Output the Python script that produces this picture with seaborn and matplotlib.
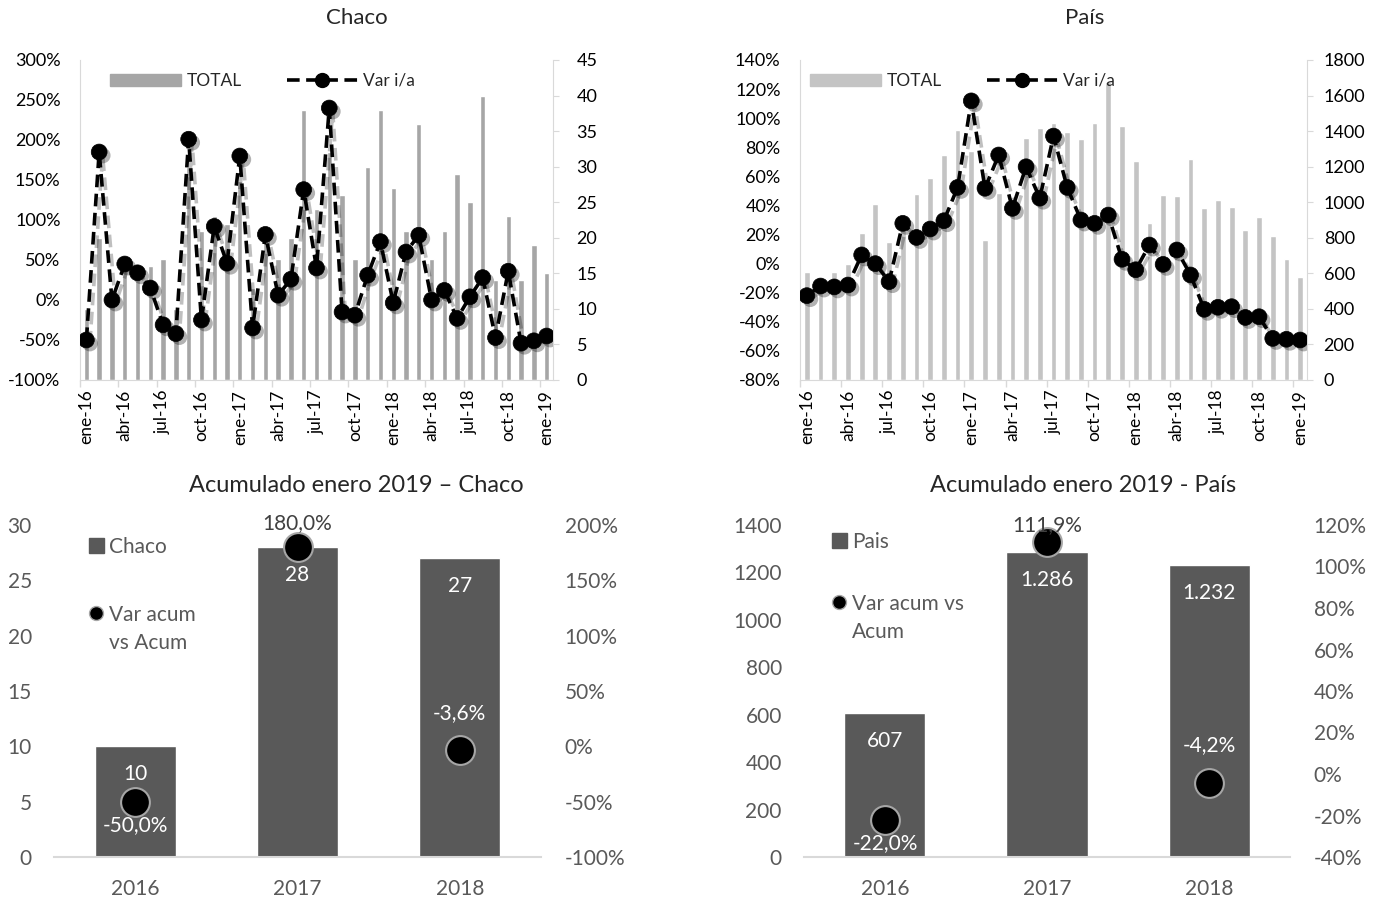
import numpy as np
import pandas as pd
import matplotlib
matplotlib.use("Agg")
import matplotlib.pyplot as plt
import matplotlib.patheffects as pe
from matplotlib.lines import Line2D
from matplotlib.patches import Patch
import seaborn as sns

# ── Datos ────────────────────────────────────────────────────────────────────
meses = ["ene", "feb", "mar", "abr", "may", "jun", "jul", "ago", "sep", "oct", "nov", "dic"]
periodos = [f"{m}-{a}" for a in ("16", "17", "18") for m in meses] + ["ene-19"]

chaco_total = [10, 20, 11, 16, 16, 16, 17, 10, 30, 21, 23, 22,
               28, 13, 20, 17, 20, 38, 24, 32, 26, 17, 30, 38,
               27, 21, 36, 17, 21, 29, 25, 40, 14, 23, 14, 19,
               15]
chaco_var = [-50, 185, 0, 45, 34, 15, -31, -42, 201, -25, 92, 46,
             180, -35, 82, 6, 26, 138, 40, 240, -15, -19, 31, 73,
             -3.6, 60, 81, 0, 12, -23, 4, 28, -47, 36, -54, -51,
             -45]

pais_total = [607, 519, 610, 652, 826, 990, 776, 917, 1044, 1138, 1266, 1406,
              1286, 788, 1054, 945, 1359, 1416, 1444, 1397, 1354, 1447, 1674, 1429,
              1232, 885, 1041, 1037, 1243, 966, 1013, 971, 844, 919, 810, 680,
              581]
pais_var = [-22, -15.4, -16, -14.7, 6, 0, -12.4, 27.7, 18, 23.8, 29.5, 52.4,
            111.9, 51.8, 74.7, 38, 66.6, 45, 87.7, 52.4, 30, 27.7, 33.4, 3,
            -4.2, 12.8, -0.5, 9.4, -7.8, -31.4, -30, -29.6, -37, -36.5, -51.4, -52,
            -52.5]

anios = ["2016", "2017", "2018"]
chaco_acum = [10, 28, 27]
chaco_acum_var = [-50.0, 180.0, -3.6]
pais_acum = [607, 1286, 1232]
pais_acum_var = [-22.0, 111.9, -4.2]

# ── Estilo ───────────────────────────────────────────────────────────────────
sns.set_style("white")
plt.rcParams["font.family"] = ["Lato", "DejaVu Sans"]

W, H = 1388, 901
fig = plt.figure(figsize=(W / 100, H / 100), dpi=100)
fig.patch.set_facecolor("white")

GRIS_EJE = "#d9d9d9"
GRIS_TXT = "#595959"
DASH = (0, (3.5, 1.8))
SOMBRA_LINEA = [pe.SimpleLineShadow(offset=(2.5, -2.5), shadow_color="black", alpha=0.25), pe.Normal()]
SOMBRA_PUNTO = [pe.SimplePatchShadow(offset=(2.5, -2.5), shadow_rgbFace="black", alpha=0.3), pe.Normal()]


def px_rect(x0, x1, y_top, y_bot):
    return [x0 / W, 1 - y_bot / H, (x1 - x0) / W, (y_bot - y_top) / H]


def fmt_miles(v):
    return f"{v:,.0f}".replace(",", ".")


def fmt_pct(v):
    return f"{v:.1f}%".replace(".", ",")


def panel_mensual(rect, total, var, bar_color, pct_lim, pct_step, tot_lim, tot_step,
                  titulo, titulo_x, legend_x, pad_r):
    ax = fig.add_axes(rect)
    ax_r = ax.twinx()
    sns.barplot(x=periodos, y=total, ax=ax_r, color=bar_color, width=0.42, saturation=1)
    idx = np.arange(len(var))
    sns.lineplot(x=idx, y=var, ax=ax, color="black", linewidth=2.6)
    line = ax.lines[0]
    line.set_linestyle(DASH)
    line.set_path_effects(SOMBRA_LINEA)
    sns.scatterplot(x=idx, y=var, ax=ax, s=130, color="black", edgecolor="black",
                    linewidth=0.5, zorder=3)
    ax.collections[-1].set_path_effects(SOMBRA_PUNTO)

    ax.set_zorder(ax_r.get_zorder() + 1)
    ax.patch.set_visible(False)

    n = len(total)
    ax.set_xlim(-0.5, n - 0.5)
    ax.set_ylim(*pct_lim)
    ax.set_yticks(np.arange(pct_lim[0], pct_lim[1] + 1, pct_step))
    ax.set_yticklabels([f"{v:.0f}%" for v in ax.get_yticks()])
    ax_r.set_ylim(*tot_lim)
    ax_r.set_yticks(np.arange(tot_lim[0], tot_lim[1] + 1, tot_step))
    ax_r.set_yticklabels([f"{v:.0f}" for v in ax_r.get_yticks()])

    ax.set_xticks(np.arange(0, n, 3))
    ax.set_xticklabels(periodos[::3], rotation=90)
    ax.set_xticks(np.arange(-0.5, n - 1, 3), minor=True)
    ax.tick_params(axis="x", which="major", length=0, pad=7, labelsize=12.5, labelcolor="black")
    ax.tick_params(axis="x", which="minor", length=5, color=GRIS_EJE, width=1, bottom=True)
    ax.tick_params(axis="y", length=0, pad=14, labelsize=13, labelcolor="black")
    ax_r.tick_params(axis="y", length=4, color=GRIS_EJE, pad=pad_r, labelsize=13, labelcolor="black")

    for s in ("top", "right"):
        ax.spines[s].set_visible(False)
    for s in ("left", "bottom"):
        ax.spines[s].set_color(GRIS_EJE)
    for s in ("top", "left", "bottom"):
        ax_r.spines[s].set_visible(False)
    ax_r.spines["right"].set_color(GRIS_EJE)
    ax.set_xlabel("")
    ax.set_ylabel("")
    ax_r.set_ylabel("")

    handles = [Patch(color=bar_color),
               Line2D([], [], color="black", linestyle=DASH, linewidth=2.6,
                      marker="o", markersize=10)]
    ax.legend(handles, ["TOTAL", "Var i/a"], loc="center left",
              bbox_to_anchor=(legend_x / W, 1 - 81 / H), bbox_transform=fig.transFigure,
              ncol=2, frameon=False, handlelength=4.1, handletextpad=0.3,
              columnspacing=2.6, borderpad=0, borderaxespad=0, fontsize=12.5)
    fig.text(titulo_x / W, 1 - 18 / H, titulo, ha="center", va="center", fontsize=16)


def panel_acum(rect, acum, var, left_lim, left_step, right_lim, right_step,
               serie, var_lineas, var_offsets, var_colors, titulo, titulo_x,
               leg_x, leg_y1, leg_y2):
    ax = fig.add_axes(rect)
    sns.barplot(x=anios, y=acum, ax=ax, color=GRIS_TXT, width=0.5, saturation=1)
    ax_r = ax.twinx()
    sns.scatterplot(x=np.arange(len(var)), y=var, ax=ax_r, s=430, color="black",
                    edgecolor="#a6a6a6", linewidth=1.5, zorder=3)

    ax.set_xlim(-0.5, len(acum) - 0.5)
    ax.set_ylim(*left_lim)
    ax.set_yticks(np.arange(left_lim[0], left_lim[1] + 1, left_step))
    ax.set_yticklabels([f"{v:.0f}" for v in ax.get_yticks()])
    ax_r.set_ylim(*right_lim)
    ax_r.set_yticks(np.arange(right_lim[0], right_lim[1] + 1, right_step))
    ax_r.set_yticklabels([f"{v:.0f}%" for v in ax_r.get_yticks()])

    ax.tick_params(axis="both", length=0, pad=16, labelsize=15, labelcolor=GRIS_TXT)
    ax_r.tick_params(axis="y", length=0, pad=17, labelsize=15, labelcolor=GRIS_TXT)
    for a in (ax, ax_r):
        for s in ("top", "left", "right"):
            a.spines[s].set_visible(False)
    ax_r.spines["bottom"].set_visible(False)
    ax.spines["bottom"].set_color(GRIS_EJE)
    ax.spines["bottom"].set_linewidth(1.5)
    ax.set_xlabel("")
    ax.set_ylabel("")
    ax_r.set_ylabel("")

    for i, v in enumerate(acum):
        ax.annotate(fmt_miles(v), (i, v), xytext=(0, -20), textcoords="offset points",
                    ha="center", va="center", color="white", fontsize=15)
    for i, v in enumerate(var):
        ax_r.annotate(fmt_pct(v), (i, v), xytext=(0, var_offsets[i]), textcoords="offset points",
                      ha="center", va="center", color=var_colors[i], fontsize=15, zorder=4)

    leg1 = ax.legend([Patch(color=GRIS_TXT)], [serie], loc="upper left",
                     bbox_to_anchor=(leg_x, leg_y1), frameon=False, handlelength=0.7,
                     handleheight=0.7, handletextpad=0.25, borderpad=0, borderaxespad=0,
                     fontsize=15, labelcolor=GRIS_TXT)
    ax.add_artist(leg1)
    punto = Line2D([], [], linestyle="none", marker="o", markersize=10,
                   markerfacecolor="black", markeredgecolor="#a6a6a6")
    vacio = Line2D([], [], linestyle="none")
    ax.legend([punto, vacio], var_lineas, loc="upper left",
              bbox_to_anchor=(leg_x, leg_y2), frameon=False, handlelength=0.7,
              handletextpad=0.25, labelspacing=0.4, borderpad=0, borderaxespad=0,
              fontsize=15, labelcolor=GRIS_TXT)
    fig.text(titulo_x / W, 1 - 485 / H, titulo, ha="center", va="center", fontsize=17)


# ── Paneles superiores ───────────────────────────────────────────────────────
panel_mensual(px_rect(80, 553, 60, 380), chaco_total, chaco_var, "#a6a6a6",
              (-100, 300), 50, (0, 45), 5, "Chaco", 357, 110, 13)
panel_mensual(px_rect(800, 1307, 60, 380), pais_total, pais_var, "#c4c4c4",
              (-80, 140), 20, (0, 1800), 200, "País", 1085, 810, 8)

# ── Paneles inferiores ───────────────────────────────────────────────────────
panel_acum(px_rect(54, 541, 525, 857), chaco_acum, chaco_acum_var, (0, 30), 5,
           (-100, 200), 50, "Chaco", ["Var acum", "vs Acum"], [-17, 17, 27],
           ["white", "#404040", "white"], "Acumulado enero 2019 – Chaco", 356,
           0.072, 0.965, 0.76)
panel_acum(px_rect(804, 1290, 525, 857), pais_acum, pais_acum_var, (0, 1400), 200,
           (-40, 120), 20, "Pais", ["Var acum vs", "Acum"], [-17, 12, 27],
           ["white", "#404040", "white"], "Acumulado enero 2019 - País", 1083,
           0.058, 0.98, 0.793)

fig.savefig("out.png", dpi=100, facecolor="white")
